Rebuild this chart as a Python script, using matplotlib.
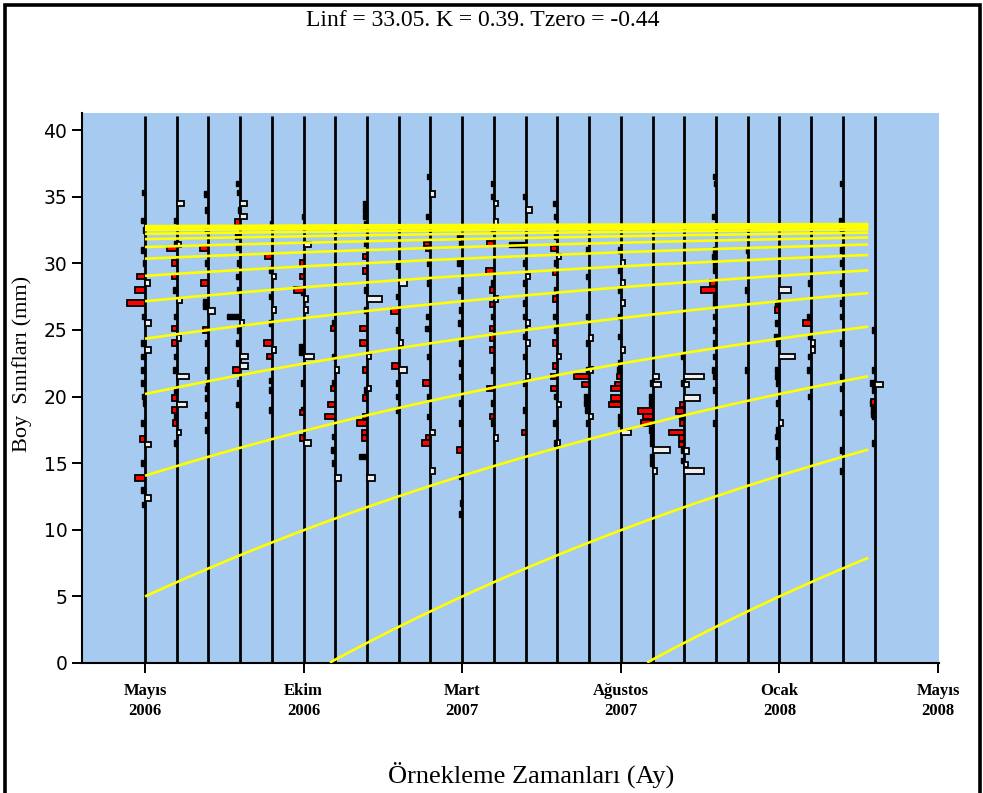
import numpy as np
import matplotlib
matplotlib.use("Agg")
import matplotlib.pyplot as plt
from matplotlib.patches import Rectangle

# ---------------- data ----------------
title_text = "Linf = 33.05. K = 0.39. Tzero = -0.44"
Linf = 33.05
K = 0.39
# age (years) of each cohort at the first sample date
cohort_age_start = [-1.58, -0.58, 0.42, 1.42, 2.42, 3.42, 4.42, 5.42, 6.42,
                    7.42, 8.42, 9.42, 10.42, 11.42, 12.42]
curve_end = 2.28

# sampling times (years from first sample)
sample_t = [0.0, 0.1, 0.2, 0.3, 0.4, 0.5, 0.6, 0.7, 0.8, 0.9, 1.0, 1.1,
            1.2, 1.3, 1.4, 1.5, 1.6, 1.7, 1.8, 1.9, 2.0, 2.1, 2.2, 2.3]

x_ticks = [0.0, 0.5, 1.0, 1.5, 2.0, 2.5]
x_ticklabels = ["Mayıs\n2006", "Ekim\n2006", "Mart\n2007", "Ağustos\n2007",
                "Ocak\n2008", "Mayıs\n2008"]
y_ticks = [0, 5, 10, 15, 20, 25, 30, 35, 40]

# restructured frequencies per sample: (length class mm, score)
black_bars = [
    [(35.3, 3), (33.2, 4), (32.5, 2), (31.0, 4), (30.0, 2), (26.0, 3), (24.0, 4), (23.0, 4),
     (22.0, 4), (21.0, 4), (20.0, 3), (19.5, 2), (18.0, 4), (15.0, 4), (13.0, 4), (11.9, 3)],
    [(33.2, 3), (31.5, 3), (28.0, 4), (26.0, 3), (23.0, 3), (22.0, 4), (20.5, 3), (18.5, 3), (16.5, 3)],
    [(35.2, 4), (34.0, 3), (32.5, 3), (30.0, 3), (27.1, 5), (26.8, 5), (24.0, 3), (22.0, 3),
     (21.0, 2), (20.6, 3), (19.9, 3), (18.6, 3), (17.5, 3)],
    [(36.0, 4), (35.3, 3), (34.0, 2), (32.0, 5), (31.2, 4), (30.0, 3), (29.0, 4), (28.0, 3),
     (26.0, 13), (25.0, 3), (24.0, 4), (21.0, 3), (19.4, 4)],
    [(33.0, 2), (29.5, 3), (27.5, 3), (25.5, 3), (21.2, 3), (20.5, 3), (19.0, 3)],
    [(33.5, 2), (27.8, 3), (23.7, 5), (23.3, 5), (21.0, 3), (19.0, 3)],
    [(25.5, 3), (23.0, 3), (21.0, 3), (17.0, 3), (16.0, 4), (15.0, 3)],
    [(34.5, 4), (34.0, 4), (33.5, 4), (33.0, 3), (31.5, 3), (28.0, 3), (26.5, 3), (20.5, 3), (15.5, 8)],
    [(29.8, 3), (27.5, 3), (25.0, 3), (21.0, 3), (20.0, 3), (19.0, 3)],
    [(36.5, 3), (33.5, 4), (30.0, 3), (28.5, 3), (26.0, 4), (25.1, 5), (23.0, 3), (20.0, 3), (18.5, 3)],
    [(32.0, 5), (31.5, 3), (30.0, 5), (28.0, 4), (26.5, 3), (25.5, 4), (24.0, 3), (22.5, 3),
     (21.5, 3), (19.5, 3), (18.0, 3), (14.0, 3), (12.0, 2), (11.2, 3)],
    [(36.0, 3), (35.0, 3), (32.5, 3), (28.5, 3), (26.0, 3), (22.0, 3), (19.5, 3), (18.0, 3)],
    [(35.0, 3), (31.4, 17), (30.0, 3), (28.5, 3), (27.0, 3), (26.0, 3), (24.5, 3), (23.0, 3),
     (21.0, 3), (19.0, 3)],
    [(34.5, 4), (33.5, 3), (32.0, 3), (30.0, 3), (28.0, 3), (26.0, 4), (25.0, 3), (20.0, 3),
     (18.0, 4), (16.5, 3)],
    [(31.0, 3), (29.0, 3), (26.0, 3), (24.0, 3), (22.0, 3), (20.0, 5), (19.5, 5), (19.0, 4), (18.0, 3)],
    [(31.0, 3), (29.5, 3), (28.0, 3), (26.0, 3), (24.5, 3), (22.5, 3), (22.0, 4), (18.5, 3), (18.0, 3)],
    [(21.0, 3), (20.0, 4), (19.5, 4), (17.5, 4), (17.0, 3), (16.5, 3), (15.5, 3), (15.0, 3)],
    [(23.0, 3), (21.0, 3), (18.5, 5), (16.0, 3), (15.2, 3)],
    [(36.5, 3), (36.0, 2), (33.5, 4), (31.0, 3), (30.5, 4), (30.0, 3), (29.5, 3), (27.5, 3),
     (27.0, 3), (26.0, 3), (25.0, 3), (24.0, 3), (23.0, 3), (22.0, 4), (21.5, 3), (20.5, 3), (18.0, 3)],
    [(31.0, 2), (28.0, 3), (22.0, 3)],
    [(27.0, 3), (26.8, 4), (25.5, 4), (24.5, 5), (24.0, 3), (22.0, 4), (21.5, 4), (21.0, 3),
     (19.5, 3), (17.5, 3), (17.0, 4), (16.0, 3), (15.5, 3)],
    [(28.5, 3), (26.0, 4), (24.5, 3), (23.0, 3), (22.0, 4), (20.0, 3)],
    [(36.0, 3), (33.2, 4), (32.5, 3), (31.0, 3), (30.0, 3), (28.5, 3), (27.0, 3), (26.0, 3),
     (24.0, 3), (21.5, 3), (20.6, 3), (18.8, 3), (16.0, 3), (14.4, 3)],
    [(25.0, 3), (22.0, 3), (21.0, 5), (20.5, 3), (19.5, 5), (19.0, 4), (18.7, 4), (18.5, 3), (16.5, 3)],
]

red_bars = [
    [(29.0, 8), (28.0, 10), (27.0, 18), (16.8, 5), (13.9, 10)],
    [(31.1, 10), (30.0, 5), (29.0, 5), (25.1, 5), (24.0, 5), (19.9, 5), (19.0, 5), (18.0, 4)],
    [(31.1, 8), (28.5, 7), (25.0, 5)],
    [(33.1, 5), (22.0, 7)],
    [(30.5, 7), (24.0, 8), (23.0, 5)],
    [(30.0, 4), (29.0, 4), (28.0, 10), (18.8, 4), (16.9, 4)],
    [(25.1, 4), (20.6, 4), (19.4, 7), (18.5, 10)],
    [(30.5, 4), (29.4, 4), (25.1, 7), (24.0, 7), (22.0, 4), (19.9, 4), (18.5, 4), (18.0, 10),
     (17.3, 5), (16.9, 5)],
    [(26.4, 8), (22.3, 7)],
    [(31.4, 6), (31.1, 4), (21.0, 7), (16.9, 4), (16.5, 8)],
    [(16.0, 5)],
    [(31.5, 7), (29.4, 8), (28.0, 4), (26.9, 4), (25.1, 4), (24.4, 4), (23.5, 4), (20.6, 7), (18.5, 4)],
    [(17.3, 4)],
    [(31.1, 6), (29.3, 4), (27.3, 4), (24.0, 4), (22.3, 4), (21.5, 6), (20.6, 6)],
    [(21.5, 15), (20.9, 7)],
    [(21.5, 4), (20.9, 6), (20.6, 10), (19.9, 10), (19.4, 12)],
    [(18.9, 15), (18.5, 10), (18.0, 12)],
    [(19.4, 4), (18.9, 8), (18.0, 4), (17.3, 15), (16.9, 5), (16.4, 5)],
    [(28.5, 6), (28.0, 15)],
    [],
    [(26.5, 4)],
    [(25.5, 8)],
    [],
    [(19.6, 4)],
]

white_bars = [
    [(28.5, 5), (25.5, 6), (23.5, 6), (16.4, 6), (12.4, 6)],
    [(34.5, 7), (31.4, 4), (27.2, 5), (24.4, 4), (21.5, 12), (19.4, 10), (17.3, 4)],
    [(26.4, 7)],
    [(34.5, 7), (33.5, 7), (25.5, 4), (23.0, 8), (22.3, 8)],
    [(29.0, 4), (26.5, 4), (23.5, 4)],
    [(31.4, 7), (27.3, 4), (26.5, 4), (23.0, 10), (16.5, 7)],
    [(22.0, 4), (13.9, 6)],
    [(27.3, 15), (23.0, 4), (20.6, 4), (13.9, 8)],
    [(28.5, 8), (24.0, 4), (22.0, 8)],
    [(35.2, 4), (17.3, 4), (14.4, 4)],
    [],
    [(34.5, 4), (33.1, 4), (27.3, 4), (16.9, 4)],
    [(34.0, 6), (29.0, 4), (25.5, 4), (24.0, 4), (21.5, 4)],
    [(30.5, 4), (23.0, 4), (19.4, 4), (16.5, 3)],
    [(24.4, 4), (22.0, 4), (18.5, 4)],
    [(30.0, 4), (28.5, 4), (27.0, 4), (23.5, 4), (17.3, 10)],
    [(21.5, 6), (20.9, 8), (16.0, 17), (14.4, 4)],
    [(21.5, 20), (20.9, 5), (19.9, 16), (15.9, 5), (14.9, 4), (14.4, 20)],
    [],
    [],
    [(28.0, 12), (23.0, 16), (18.0, 4)],
    [(24.0, 4), (23.5, 4)],
    [],
    [(20.9, 8)],
]

# ---------------- style ----------------
W, H = 983, 793
score_to_years = 1.0 / 317.0
bar_h = 0.42
bg = "#A6CAF0"
serif = ["Liberation Serif", "DejaVu Serif"]

fig = plt.figure(figsize=(W / 100, H / 100), dpi=100)
ax = fig.add_axes([82 / W, 1 - 663 / H, (939 - 82) / W, (663 - 113) / H])
ax.set_facecolor(bg)
ax.set_xlim(-0.1986, 2.503)
ax.set_ylim(0, 41.28)

# sample lines
ax.vlines(sample_t, 0, 41.05, colors="black", lw=2.0, zorder=2)

# bars
for i, t in enumerate(sample_t):
    if black_bars[i]:
        L = [b[0] for b in black_bars[i]]
        w = np.array([b[1] for b in black_bars[i]]) * score_to_years
        ax.barh(L, w, left=t - w, height=bar_h, color="black",
                edgecolor="black", lw=1.0, zorder=3)
    if red_bars[i]:
        L = [b[0] for b in red_bars[i]]
        w = np.array([b[1] for b in red_bars[i]]) * score_to_years
        ax.barh(L, w, left=t - w, height=bar_h, color="#FF0000",
                edgecolor="black", lw=1.3, zorder=4)
    if white_bars[i]:
        L = [b[0] for b in white_bars[i]]
        w = np.array([b[1] for b in white_bars[i]]) * score_to_years
        ax.barh(L, w, left=t, height=bar_h, color="#F0F0F0",
                edgecolor="black", lw=1.3, zorder=4)

# growth curves
tt = np.linspace(0, curve_end, 400)
for a0 in cohort_age_start:
    L = Linf * (1 - np.exp(-K * (tt + a0)))
    m = L >= 0
    ax.plot(tt[m], L[m], color="#FFFF00", lw=1.9, zorder=5, solid_capstyle="butt")

# axes styling
for s in ["top", "right"]:
    ax.spines[s].set_visible(False)
for s in ["left", "bottom"]:
    ax.spines[s].set_linewidth(1.5)
ax.set_xticks(x_ticks)
ax.set_xticklabels(x_ticklabels, fontfamily=serif, fontsize=12, fontweight="bold",
                   linespacing=1.3)
ax.set_yticks(y_ticks)
ax.set_yticklabels([str(v) for v in y_ticks], fontfamily="DejaVu Sans", fontsize=13.5)
ax.tick_params(axis="x", length=7.5, width=1.4, pad=7, direction="out")
ax.tick_params(axis="y", length=7.5, width=1.4, pad=3, direction="out")

# texts
fig.text(483 / W, 1 - 20 / H, title_text, ha="center", va="center",
         fontsize=17, fontfamily=serif)
fig.text(22 / W, 1 - 364 / H, "Boy  Sınıfları (mm)", rotation=90, ha="center",
         va="center", fontsize=16, fontfamily=serif)
fig.text(531 / W, 1 - 775 / H, "Örnekleme Zamanları (Ay)", ha="center", va="center",
         fontsize=19, fontfamily=serif)

# frame around the figure
fig.patches.append(Rectangle((5 / W, -0.02), (980 - 5) / W, 1.02 - 4.5 / H,
                             transform=fig.transFigure, fill=False,
                             edgecolor="black", lw=2.6))

fig.savefig("out.png", dpi=100)
